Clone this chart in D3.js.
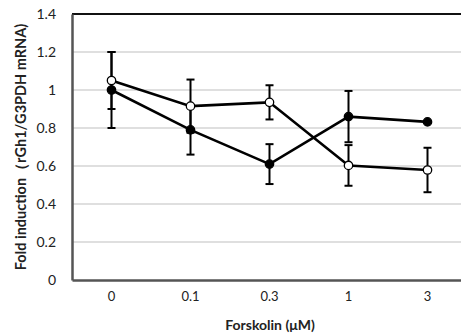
<!DOCTYPE html>
<html>
<head>
<meta charset="utf-8">
<script src="https://cdn.jsdelivr.net/npm/d3@7"></script>
<style>
  body { margin: 0; background: #fff; }
  text { font-family: Lato, "Open Sans", sans-serif; }
</style>
</head>
<body>
<svg id="chart"></svg>
<script>
// forskolin doses (category axis)
const doses = ["0", "0.1", "0.3", "1", "3"];
// filled circles
const filledMean = [1.0, 0.79, 0.61, 0.86, 0.832];
const filledErr = [0.2, 0.13, 0.105, 0.135, 0];
// open circles
const openMean = [1.05, 0.915, 0.935, 0.603, 0.579];
const openErr = [0.15, 0.14, 0.09, 0.107, 0.117];
const yTicks = [0, 0.2, 0.4, 0.6, 0.8, 1, 1.2, 1.4];

let margin = { top: 14, left: 72 },
  width = 395,
  height = 266;

let svg = d3.select("#chart")
  .attr("width", 461)
  .attr("height", 334);

let g = svg.append("g")
  .attr("transform", "translate(" + margin.left + "," + margin.top + ")");

let x = d3.scaleBand()
  .domain(doses)
  .range([0, width]);

let y = d3.scaleLinear()
  .domain([0, 1.4])
  .range([height, 0]);

// gridlines
g.selectAll("line.grid")
  .data(yTicks.filter(d => d > 0 && d < 1.4))
  .enter().append("line")
  .attr("class", "grid")
  .attr("x1", 0)
  .attr("x2", width)
  .attr("y1", d => y(d))
  .attr("y2", d => y(d))
  .attr("stroke", "#c0c0c0")
  .attr("stroke-width", 1.2);

// frame: top black, left/bottom grey
g.append("line")
  .attr("x1", 0).attr("x2", width)
  .attr("y1", y(1.4)).attr("y2", y(1.4))
  .attr("stroke", "#111").attr("stroke-width", 2);

let yAxis = g.append("g")
  .call(d3.axisLeft(y).tickValues(yTicks).tickSize(0).tickPadding(16)
    .tickFormat(d => d3.format("~g")(d)));
yAxis.select(".domain").attr("stroke", "#555").attr("stroke-width", 2.5);
yAxis.selectAll("text").attr("font-size", 14).attr("fill", "#222");

let xAxis = g.append("g")
  .attr("transform", "translate(0," + height + ")")
  .call(d3.axisBottom(x).tickSize(0).tickPadding(12));
xAxis.select(".domain").attr("stroke", "#555").attr("stroke-width", 2.5);
xAxis.selectAll("text").attr("font-size", 13).attr("fill", "#222");

let cx = d => x(d) + x.bandwidth() / 2;

function drawSeries(means, errs, fill) {
  let pts = doses.map((d, i) => ({ d: d, v: means[i], e: errs[i] }));

  // error bars
  let eb = g.append("g").selectAll("g")
    .data(pts.filter(p => p.e > 0))
    .enter().append("g")
    .attr("stroke", "#000")
    .attr("stroke-width", 2);
  eb.append("line")
    .attr("x1", p => cx(p.d)).attr("x2", p => cx(p.d))
    .attr("y1", p => y(p.v + p.e)).attr("y2", p => y(p.v - p.e));
  eb.append("line")
    .attr("x1", p => cx(p.d) - 4).attr("x2", p => cx(p.d) + 4)
    .attr("y1", p => y(p.v + p.e)).attr("y2", p => y(p.v + p.e));
  eb.append("line")
    .attr("x1", p => cx(p.d) - 4).attr("x2", p => cx(p.d) + 4)
    .attr("y1", p => y(p.v - p.e)).attr("y2", p => y(p.v - p.e));

  g.append("path")
    .datum(pts)
    .attr("fill", "none")
    .attr("stroke", "#000")
    .attr("stroke-width", 2.6)
    .attr("d", d3.line().x(p => cx(p.d)).y(p => y(p.v)));

  g.append("g").selectAll("circle")
    .data(pts)
    .enter().append("circle")
    .attr("cx", p => cx(p.d))
    .attr("cy", p => y(p.v))
    .attr("r", 4.2)
    .attr("fill", fill)
    .attr("stroke", "#000")
    .attr("stroke-width", 1.3);
}

drawSeries(filledMean, filledErr, "#000");
drawSeries(openMean, openErr, "#fff");

// axis titles
svg.append("text")
  .attr("x", margin.left + 198)
  .attr("y", 330)
  .attr("text-anchor", "middle")
  .attr("font-size", 14)
  .attr("font-weight", "bold")
  .attr("fill", "#222")
  .text("Forskolin (μM)");

svg.append("text")
  .attr("transform", "translate(26,147) rotate(-90)")
  .attr("text-anchor", "middle")
  .attr("font-size", 14.5)
  .attr("font-weight", "bold")
  .attr("fill", "#222")
  .text("Fold induction（rGh1/G3PDH mRNA)");
</script>
</body>
</html>
